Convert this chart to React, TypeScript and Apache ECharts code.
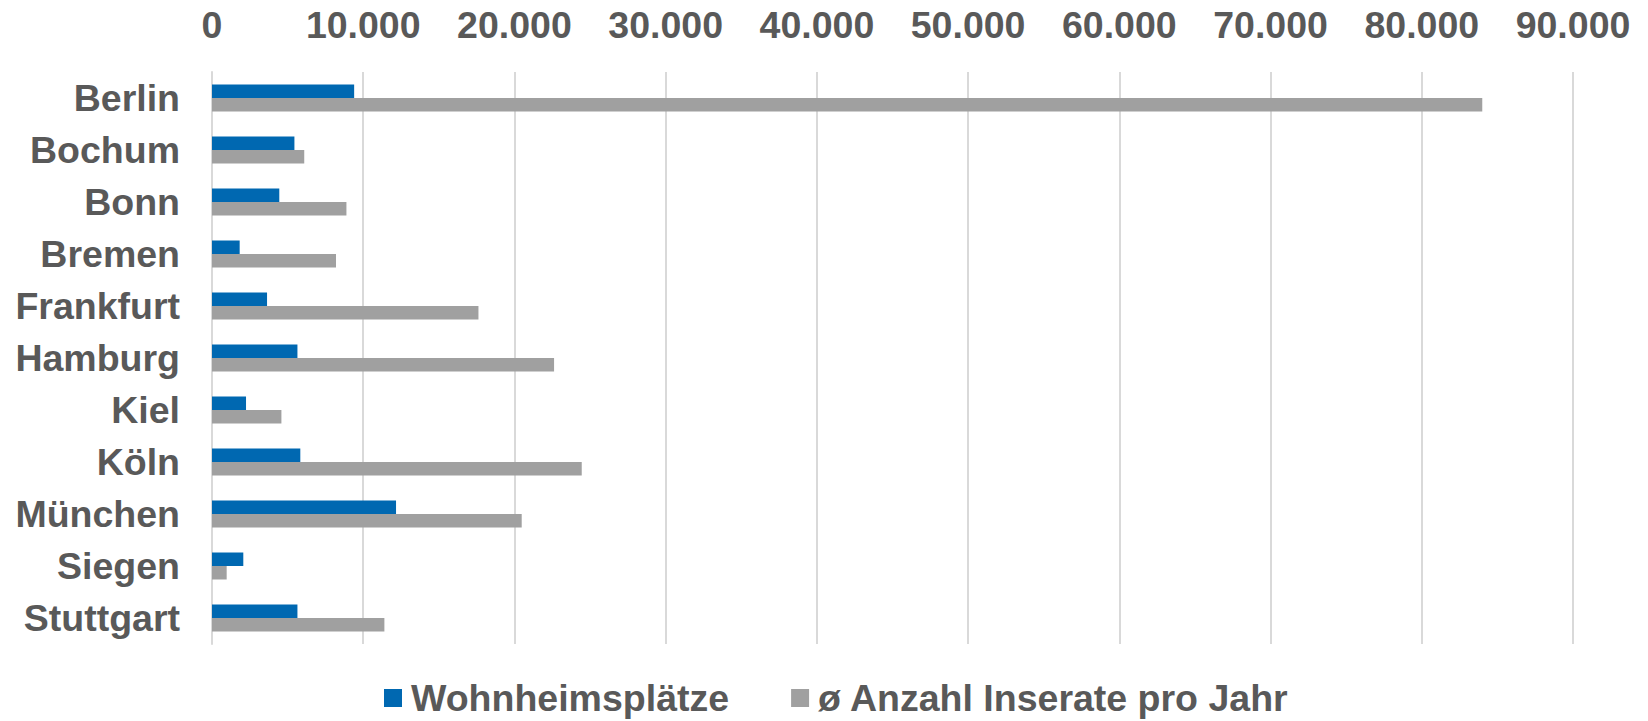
import React, { useEffect, useRef } from "react";
import * as echarts from "echarts";

const cities = ["Berlin", "Bochum", "Bonn", "Bremen", "Frankfurt", "Hamburg", "Kiel", "Köln", "München", "Siegen", "Stuttgart"];
const wohnheimsplaetze = [9400, 5450, 4450, 1830, 3640, 5650, 2250, 5840, 12170, 2070, 5650];
const inserate = [84000, 6100, 8890, 8200, 17620, 22620, 4590, 24450, 20480, 970, 11400];
const seriesNames = ["Wohnheimsplätze", "ø Anzahl Inserate pro Jahr"];
const xMax = 90000;
const xInterval = 10000;

const FONT = "'Liberation Sans', Arial, sans-serif";
const TEXT = "#595959";
const FS = 37.5;

function fmt(v: number): string {
  return String(v).replace(/\B(?=(\d{3})+(?!\d))/g, ".");
}

export default function App() {
  const ref = useRef<HTMLDivElement>(null);
  useEffect(() => {
    if (!ref.current) return;
    const chart = echarts.init(ref.current, undefined, { renderer: "svg" });
    chart.setOption({
      animation: false,
      backgroundColor: "#ffffff",
      grid: { left: 212, right: 75, top: 72, bottom: 77, containLabel: false },
      legend: {
        top: 679,
        left: 384,
        padding: 0,
        itemWidth: 18,
        itemHeight: 18,
        itemGap: 62,
        icon: "rect",
        textStyle: {
          fontFamily: FONT,
          fontSize: FS,
          fontWeight: "bold",
          color: TEXT,
          lineHeight: 36,
          padding: [0, 0, 0, 4],
        },
        data: seriesNames,
      },
      xAxis: {
        type: "value",
        position: "top",
        min: 0,
        max: xMax,
        interval: xInterval,
        axisLine: { show: false },
        axisTick: { show: false },
        splitLine: { show: true, lineStyle: { color: "#d9d9d9", width: 2 } },
        axisLabel: {
          margin: 28,
          fontFamily: FONT,
          fontSize: FS,
          fontWeight: "bold",
          color: TEXT,
          formatter: (v: number) => fmt(v),
        },
      },
      yAxis: {
        type: "category",
        inverse: true,
        data: cities,
        axisLine: { show: true, lineStyle: { color: "#d9d9d9", width: 2 } },
        axisTick: { show: false },
        axisLabel: {
          margin: 32,
          fontFamily: FONT,
          fontSize: FS,
          fontWeight: "bold",
          color: TEXT,
        },
      },
      series: [
        {
          name: seriesNames[0],
          type: "bar",
          data: wohnheimsplaetze,
          barWidth: 13.5,
          barGap: "0%",
          itemStyle: { color: "#0068b1" },
        },
        {
          name: seriesNames[1],
          type: "bar",
          data: inserate,
          barWidth: 13.5,
          barGap: "0%",
          itemStyle: { color: "#a0a0a0" },
        },
      ],
    });
    return () => chart.dispose();
  }, []);
  return (
    <div
      ref={ref}
      style={{ position: "fixed", left: 0, top: 0, width: 1648, height: 721, background: "#fff" }}
    />
  );
}
